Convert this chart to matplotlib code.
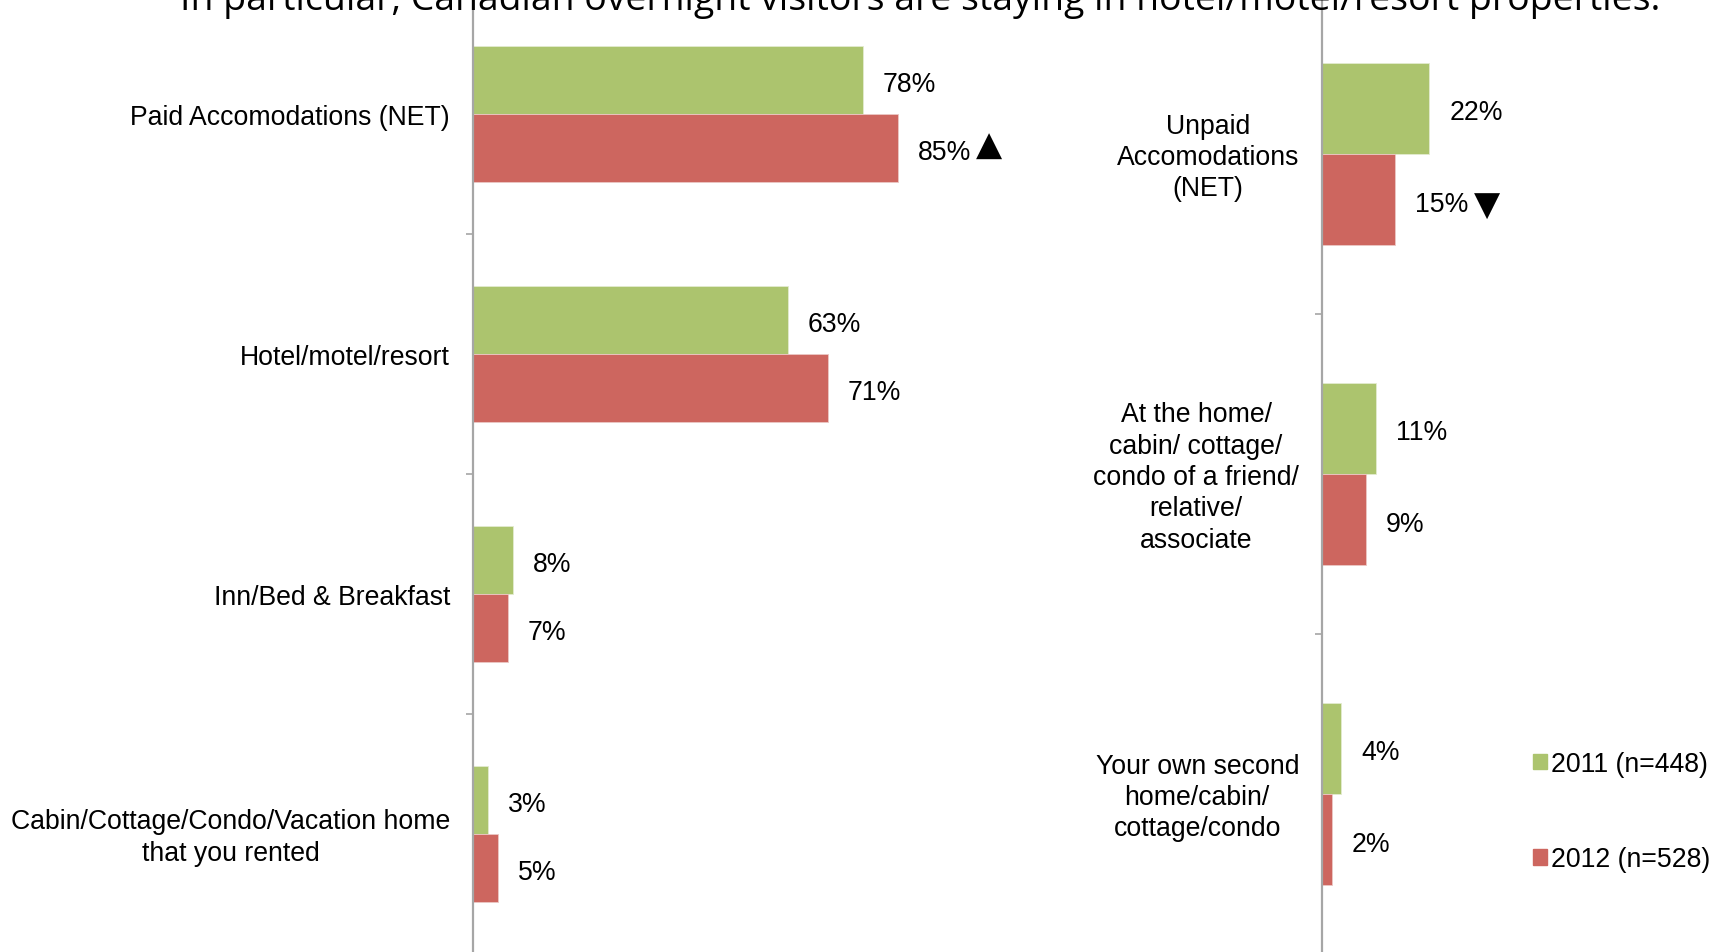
import matplotlib
matplotlib.use("Agg")
import matplotlib.pyplot as plt
from matplotlib.patches import Patch

# paid accommodation types (left panel)
paid_cats = ["Paid Accomodations (NET)", "Hotel/motel/resort", "Inn/Bed & Breakfast",
             "Cabin/Cottage/Condo/Vacation home\nthat you rented"]
paid_2011 = [78, 63, 8, 3]
paid_2012 = [85, 71, 7, 5]
paid_sig = ["up", None, None, None]

# unpaid accommodation types (right panel)
unpaid_cats = ["Unpaid\nAccomodations\n(NET)",
               "At the home/\ncabin/ cottage/\ncondo of a friend/\nrelative/\nassociate",
               "Your own second\nhome/cabin/\ncottage/condo"]
unpaid_2011 = [22, 11, 4]
unpaid_2012 = [15, 9, 2]
unpaid_sig = ["down", None, None]

series_labels = ["2011 (n=448)", "2012 (n=528)"]
title = "In particular, Canadian overnight visitors are staying in hotel/motel/resort properties."

GREEN = "#ACC46E"
RED = "#CD665F"
AXIS_GREY = "#A6A6A6"
FS = 19.2
FONT = ["Liberation Sans", "DejaVu Sans"]
# significance arrows: glyph and vertical nudge in pixels
ARROWS = {"up": ("\u25B2", 7), "down": ("\u25BC", -2)}

plt.rcParams["font.family"] = FONT

fig = plt.figure(figsize=(17.2, 9.53), dpi=100)
W, H = 1720, 953

y_top = 1 + 5 / H
y_h = 960 / H


def panel(x_px, px_per_pct, cats, v11, v12, sig, bar_h):
    ax = fig.add_axes([x_px / W, y_top - y_h, 100 * px_per_pct / W, y_h])
    n = len(cats)
    pos = list(range(n))
    ax.barh([p - bar_h / 2 for p in pos], v11, height=bar_h, color=GREEN,
            edgecolor="#E3EBD0", linewidth=0.6, label=series_labels[0])
    ax.barh([p + bar_h / 2 for p in pos], v12, height=bar_h, color=RED,
            edgecolor="#EBC8C5", linewidth=0.6, label=series_labels[1])
    ax.set_xlim(0, 100)
    ax.set_ylim(n - 0.5, -0.5)
    for s in ["top", "right", "bottom"]:
        ax.spines[s].set_visible(False)
    ax.spines["left"].set_color(AXIS_GREY)
    ax.spines["left"].set_linewidth(1.6)
    ax.set_xticks([])
    ax.set_yticks([p + 0.5 for p in pos[:-1]])
    ax.set_yticklabels([])
    ax.tick_params(axis="y", direction="out", length=5, width=1.2, color=AXIS_GREY)

    for p, c in zip(pos, cats):
        ax.annotate(c, xy=(0, p), xytext=(-23, -3), textcoords="offset pixels",
                    ha="right", va="center", multialignment="center",
                    fontsize=FS, linespacing=1.27)
    for p, a, b, s in zip(pos, v11, v12, sig):
        ax.annotate(f"{a}%", xy=(a, p - bar_h / 2), xytext=(20, -4),
                    textcoords="offset pixels", ha="left", va="center", fontsize=FS)
        lab = ax.annotate(f"{b}%", xy=(b, p + bar_h / 2), xytext=(20, -4),
                          textcoords="offset pixels", ha="left", va="center",
                          fontsize=FS)
        if s in ARROWS:
            glyph, dy = ARROWS[s]
            ax.annotate(glyph, xy=(1, 0.5), xycoords=lab, xytext=(5, dy),
                        textcoords="offset pixels", ha="left", va="center",
                        fontsize=24.5, family="DejaVu Sans")
    return ax


ax_l = panel(473, 5.0, paid_cats, paid_2011, paid_2012, paid_sig, 0.283)
ax_r = panel(1322, 4.87, unpaid_cats, unpaid_2011, unpaid_2012, unpaid_sig, 0.285)

handles = [Patch(color=GREEN), Patch(color=RED)]
fig.legend(handles, series_labels, loc="upper left",
           bbox_to_anchor=(1533 / W, 1 - 752 / H), frameon=False, fontsize=FS,
           handlelength=0.52, handleheight=0.52, handletextpad=0.15,
           labelspacing=2.6, borderpad=0, borderaxespad=0)

fig.text(920 / W, 1 - 10 / H, title, ha="center", va="baseline",
         fontsize=26.9, family=["Open Sans", "DejaVu Sans"])

fig.savefig("out.png", dpi=100)
